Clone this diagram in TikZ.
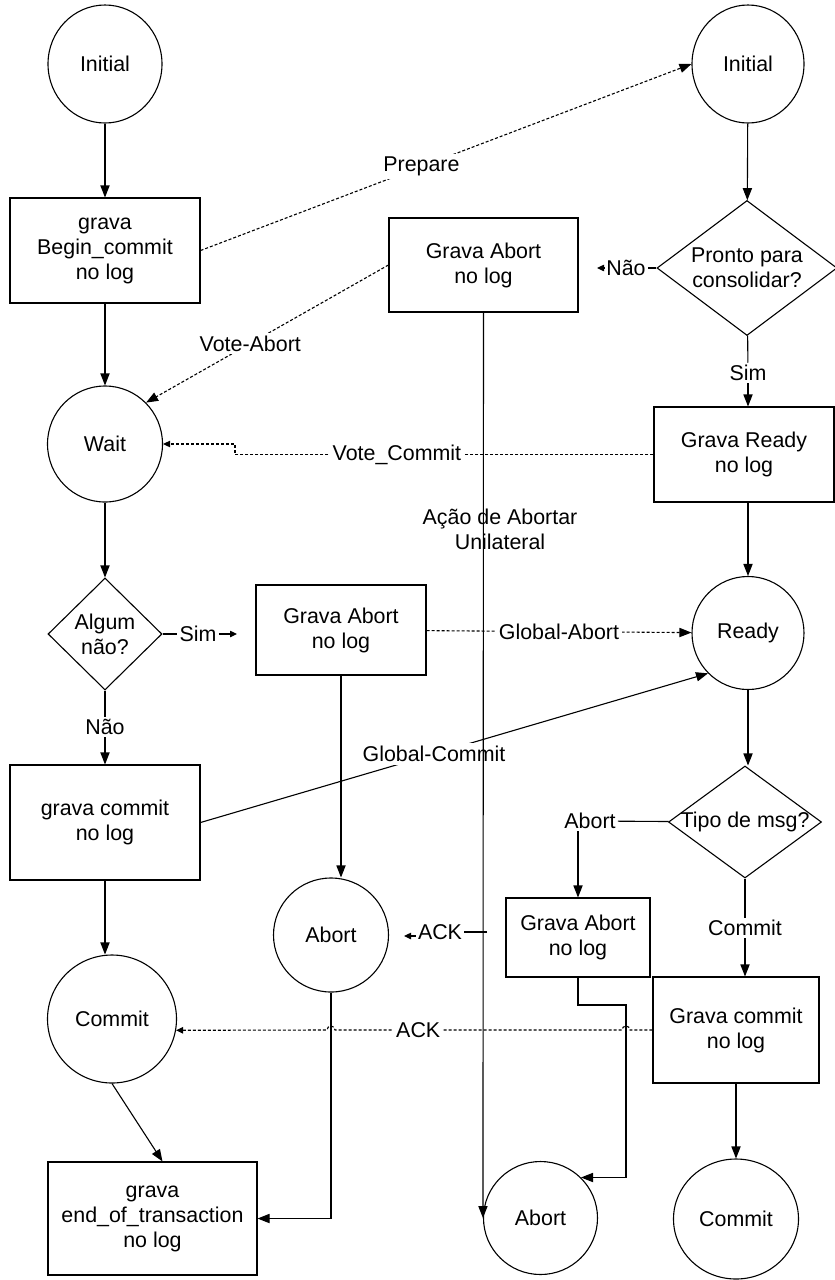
\documentclass[tikz,border=0pt]{standalone}
\usepackage{fontspec}
\setmainfont{Liberation Sans}
\usetikzlibrary{shapes.geometric, arrows.meta, calc}

\begin{document}
\begin{tikzpicture}[x=0.5pt, y=-0.5pt,
  every node/.style={font=\fontsize{10.7}{12.5}\selectfont, align=center},
  ln/.style={line width=0.55pt},
  arr/.style={ln, -{Triangle[length=6pt,width=4.6pt]}},
  sarr/.style={ln, -{Triangle[length=3.5pt,width=3.2pt]}},
  dsh/.style={ln, dash pattern=on 1.5pt off 1pt},
  state/.style={draw, ellipse, line width=0.55pt, inner sep=0pt},
  stepbox/.style={draw, rectangle, line width=0.55pt, inner sep=0pt},
  decision/.style={draw, diamond, line width=0.55pt, inner sep=0pt},
  lbl/.style={fill=white, inner sep=1.5pt},
  tag/.style={inner sep=1pt},
]
\fill[white] (0,0) rectangle (835,1280);
\useasboundingbox (0,0) rectangle (835,1280);

% ---------- coordinator (left) ----------
\node[state, minimum width=57pt, minimum height=59pt] (initL) at (105,64) {Initial};
\node[stepbox, minimum width=95pt, minimum height=52.5pt] (bc) at (105,250.5) {grava\\Begin\_commit\\no log};
\node[state, minimum width=57.5pt, minimum height=58pt] (wait) at (105,444) {Wait};
\node[decision, minimum width=57pt, minimum height=56pt] (algum) at (105,634) {};
\node (algumT) at (algum) {Algum\\não?};
\node[stepbox, minimum width=95pt, minimum height=57.5pt] (gc) at (105,822.5) {grava commit\\no log};
\node[state, minimum width=64.5pt, minimum height=64pt] (commitL) at (112,1019) {Commit};
\node[stepbox, minimum width=104.5pt, minimum height=56.5pt] (eot) at (152.5,1218.5) {grava\\end\_of\_transaction\\no log};

% ---------- middle ----------
\node[stepbox, minimum width=94.5pt, minimum height=47pt] (ga1) at (483.5,265) {Grava Abort\\no log};
\node[stepbox, minimum width=85pt, minimum height=45pt] (ga2) at (341,630) {Grava Abort\\no log};
\node[state, minimum width=57.5pt, minimum height=57pt] (abortM) at (331,935) {Abort};
\node[stepbox, minimum width=72pt, minimum height=39.5pt] (ga3) at (578,937.5) {Grava Abort\\no log};
\node[state, minimum width=57pt, minimum height=56.5pt] (abortR) at (540.5,1218) {Abort};
\node (unil) at (500,529) {Ação de Abortar\\Unilateral};

% ---------- participant (right) ----------
\node[state, minimum width=56pt, minimum height=59pt] (initR) at (748,64) {Initial};
\node[decision, minimum width=90pt, minimum height=67.5pt] (cons) at (747,268) {};
\node (consT) at (cons) {Pronto para\\consolidar?};
\node[stepbox, minimum width=90pt, minimum height=47.5pt] (grReady) at (744,454.5) {Grava Ready\\no log};
\node[state, minimum width=56pt, minimum height=56.5pt] (ready) at (748,633) {Ready};
\node[decision, minimum width=76.5pt, minimum height=56pt] (tipo) at (745,822) {};
\node (tipoT) at (tipo) {Tipo de msg?};
\node[stepbox, minimum width=83pt, minimum height=53pt] (gcR) at (736,1030) {Grava commit\\no log};
\node[state, minimum width=62.5pt, minimum height=60pt] (commitR) at (736,1219) {Commit};

% ---------- branch labels ----------
\node[tag] (naoR) at (626,268) {Não};
\node[tag] (simR) at (748,373) {Sim};
\node[tag] (simL) at (198,634) {Sim};
\node[tag] (naoL) at (105,727) {Não};
\node[tag] (abortLbl) at (590,821) {Abort};
\node[tag] (commitLbl) at (745,928) {Commit};
\node[tag] (ackM) at (440,932) {ACK};

\coordinate (naoTip) at (597,268);
\coordinate (simTip) at (237,634);
\coordinate (ackEnd) at (487,932);
\coordinate (ackTip) at (404,936);
\coordinate (j1) at (626,1005);
\coordinate (vc1) at (235,454.5);
\coordinate (vc2) at (235,444);
\coordinate (bumpA) at (630,1030);
\coordinate (bumpB) at (335,1030);

% ---------- coordinator flow ----------
\draw[arr] (initL) -- (bc);
\draw[arr] (bc) -- (wait);
\draw[arr] (wait) -- (algum);
\draw[ln] (algum) -- (naoL);
\draw[arr] (naoL) -- (gc);
\draw[ln] (algum) -- (simL);
\draw[sarr] (simL) -- (simTip);
\draw[arr] (gc.south) -- (gc.south |- commitL.north);
\draw[arr] (commitL.south) -- ($(eot.north)+(10,0)$);
\draw[arr] (ga2.south) -- (ga2.south |- abortM.north);
\draw[arr] (abortM.south) |- (eot.east);

% ---------- participant flow ----------
\draw[arr] (initR) -- (cons);
\draw[ln] (cons) -- (naoR);
\draw[sarr] (naoR) -- (naoTip);
\draw[ln] (cons) -- (simR);
\draw[arr] (simR.south) -- (simR.south |- grReady.north);
\draw[arr] (grReady.south -| ready.north) -- (ready.north);
\draw[arr] (ready.south) -- (ready.south |- tipo.north);
\draw[ln] (tipo) -- (abortLbl);
\draw[arr] (abortLbl.south -| ga3.north) -- (ga3.north);
\draw[ln] (tipo) -- (commitLbl);
\draw[arr] (commitLbl.south) -- (commitLbl.south |- gcR.north);
\draw[arr] (gcR.south -| commitR.north) -- (commitR.north);
\draw[arr] (ga3.south) |- (j1) |- (abortR.45);
\draw[ln] (ackEnd) -- (ackM);
\draw[sarr] (ackM.west |- ackTip) -- (ackTip);

% ---------- messages ----------
\draw[dsh, arr] (bc.east) -- node[pos=0.45, lbl] (prepLbl) {Prepare} (initR.west);
\draw[dsh, arr] (ga1.west) -- node[pos=0.57, lbl] (vaLbl) {Vote-Abort} (wait.north east);
\draw[dsh, sarr] (grReady.west) -- node[pos=0.613, lbl] (vcLbl) {Vote\_Commit} (vc1) -- (vc2) -- (wait.east);
\draw[dsh, arr] (ga2) -- node[lbl] (gaLbl) {Global-Abort} (ready);
\draw[arr] (gc.east) -- node[pos=0.46, lbl] (gcLbl) {Global-Commit} (ready.south west);
\draw[dsh, sarr] (gcR.west) -- (bumpA) arc[start angle=0, end angle=180, radius=2pt]
  -- node[pos=0.71, lbl] (ackLbl) {ACK} (bumpB) arc[start angle=0, end angle=180, radius=2pt]
  -- (commitL.-10);

% unilateral abort path, drawn over the crossing labels
\draw[arr] (ga1.south) -- (abortR.west);
\end{tikzpicture}
\end{document}
